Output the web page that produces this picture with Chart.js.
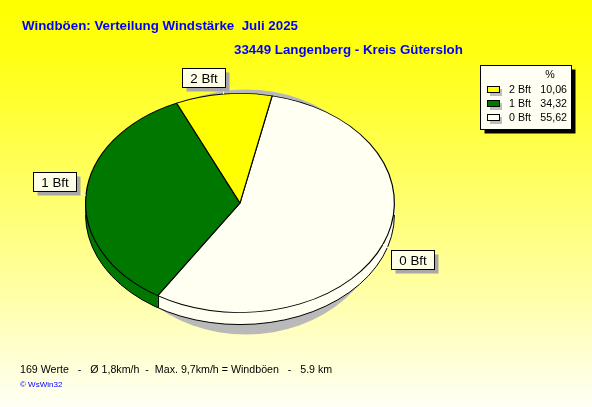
<!DOCTYPE html>
<html>
<head>
<meta charset="utf-8">
<script src="https://cdn.jsdelivr.net/npm/chart.js@4/dist/chart.umd.min.js"></script>
<style>
html, body { margin: 0; padding: 0; }
#wrap {
    position: relative; width: 592px; height: 407px; overflow: hidden;
    background: linear-gradient(to bottom, #ffff00 0%, #ffff10 12%, #ffff70 50%, #ffffac 74%, #fffff6 100%);
    font-family: "Liberation Sans", Arial, sans-serif;
}
#wrap canvas { position: absolute; left: 0; top: 0; }
.txt { position: absolute; white-space: pre; line-height: 1; }
</style>
</head>
<body>
<div id="wrap">
    <canvas id="pie" width="592" height="407"></canvas>
    <div class="txt" style="left:22px;top:19px;font-size:13.33px;font-weight:bold;color:#0000ff">Windböen: Verteilung Windstärke  Juli 2025</div>
    <div class="txt" style="left:234px;top:43px;font-size:13.33px;font-weight:bold;color:#0000ff">33449 Langenberg - Kreis Gütersloh</div>
    <div class="txt" style="left:20px;top:364px;font-size:10.67px;color:#000">169 Werte   -   Ø 1,8km/h  -  Max. 9,7km/h = Windböen   -   5.9 km</div>
    <div class="txt" style="left:20px;top:381px;font-size:8px;color:#0000ff">© WsWin32</div>
</div>
<script>
// data
const categories = ['0 Bft', '1 Bft', '2 Bft'];
const percents = [55.62, 34.32, 10.06];
const sliceColors = ['#fffff2', '#007800', '#ffff00'];
const legendOrder = [2, 1, 0];

// label boxes: offset of box top-left from the slice anchor on the rim
const labelOffsets = [[8, 6], [-53, -23], [-42, -26]];

const squash = 110 / 155;   // ellipse ry / rx
const depth = 12;           // thickness of the pie

function squashAt(ctx, cx, cy) {
    ctx.translate(cx, cy);
    ctx.scale(1, squash);
    ctx.translate(-cx, -cy);
}

function drawArcCopy(ctx, arc, opts) {
    const c = Object.create(arc);
    c.options = Object.assign({}, arc.options, opts);
    c.draw(ctx);
}

const pie3d = {
    id: 'pie3d',
    beforeDatasetsDraw(chart) {
        const ctx = chart.ctx;
        const arcs = chart.getDatasetMeta(0).data;
        const cx = arcs[0].x, cy = arcs[0].y, r = arcs[0].outerRadius;
        const ry = r * squash;
        // shadow
        ctx.save();
        ctx.fillStyle = '#b9b9b9';
        ctx.beginPath();
        ctx.ellipse(cx + 6, cy + 9, r - 14, ry + 13, 0, 0, Math.PI * 2);
        ctx.fill();
        ctx.restore();
        // side wall
        for (let d = depth; d > 0; d--) {
            ctx.save();
            ctx.translate(0, d);
            squashAt(ctx, cx, cy);
            arcs.forEach(a => drawArcCopy(ctx, a, {borderWidth: 0}));
            ctx.restore();
        }
        // bottom rim and vertical edges of the wall
        ctx.save();
        ctx.strokeStyle = '#000';
        ctx.lineWidth = 1;
        ctx.beginPath();
        ctx.ellipse(cx, cy + depth, r, ry, 0, 0, Math.PI);
        ctx.stroke();
        arcs.forEach(a => {
            const s = Math.sin(a.startAngle);
            if (s > 0) {
                const x = Math.round(cx + r * Math.cos(a.startAngle)) + 0.5;
                const y = cy + ry * s;
                ctx.beginPath();
                ctx.moveTo(x, y);
                ctx.lineTo(x, y + depth);
                ctx.stroke();
            }
        });
        ctx.restore();
        // top face
        ctx.save();
        squashAt(ctx, cx, cy);
    },
    afterDatasetsDraw(chart) {
        chart.ctx.restore();
    },
    afterDraw(chart) {
        const ctx = chart.ctx;
        const arcs = chart.getDatasetMeta(0).data;
        ctx.save();
        ctx.font = '13.33px "Liberation Sans", Arial, sans-serif';
        ctx.textAlign = 'center';
        ctx.textBaseline = 'middle';
        arcs.forEach((a, i) => {
            const mid = (a.startAngle + a.endAngle) / 2;
            const ax = a.x + a.outerRadius * Math.cos(mid);
            const ay = a.y + a.outerRadius * squash * Math.sin(mid);
            const bx = Math.round(ax + labelOffsets[i][0]) + 0.5;
            const by = Math.round(ay + labelOffsets[i][1]) + 0.5;
            const bw = 43, bh = 19;
            // leader
            const lx = Math.min(Math.max(ax, bx), bx + bw);
            const ly = Math.min(Math.max(ay, by), by + bh);
            ctx.strokeStyle = '#ffffff';
            ctx.lineWidth = 1;
            ctx.beginPath();
            ctx.moveTo(ax, ay);
            ctx.lineTo(lx, ly);
            ctx.stroke();
            ctx.fillStyle = '#a8a8a8';
            ctx.fillRect(bx + 4, by + 4, bw, bh);
            ctx.fillStyle = '#ffffe8';
            ctx.fillRect(bx, by, bw, bh);
            ctx.strokeStyle = '#000';
            ctx.strokeRect(bx, by, bw, bh);
            ctx.fillStyle = '#000';
            ctx.fillText(categories[i], bx + bw / 2, by + bh / 2 + 1);
        });

        // legend
        const lx = 480.5, ly = 65.5, lw = 91, lh = 64;
        ctx.fillStyle = '#000';
        ctx.fillRect(lx + 4, ly + 4, lw, lh);
        ctx.fillStyle = '#fffff4';
        ctx.fillRect(lx, ly, lw, lh);
        ctx.strokeStyle = '#000';
        ctx.strokeRect(lx, ly, lw, lh);
        ctx.font = '10.67px "Liberation Sans", Arial, sans-serif';
        ctx.textAlign = 'center';
        ctx.fillStyle = '#000';
        ctx.fillText('%', 550, 75);
        legendOrder.forEach((k, row) => {
            const y = 90 + row * 14;
            ctx.fillStyle = '#bdbdbd';
            ctx.fillRect(490, y - 1, 12, 7);
            ctx.fillStyle = sliceColors[k];
            ctx.fillRect(487.5, y - 3.5, 12, 6);
            ctx.strokeStyle = '#000';
            ctx.strokeRect(487.5, y - 3.5, 12, 6);
            ctx.fillStyle = '#000';
            ctx.textAlign = 'left';
            ctx.fillText(categories[k], 509, y);
            ctx.textAlign = 'right';
            ctx.fillText(percents[k].toFixed(2).replace('.', ','), 567, y);
        });
        ctx.restore();
    }
};

new Chart(document.getElementById('pie'), {
    type: 'pie',
    data: {
        labels: categories,
        datasets: [{
            data: percents,
            backgroundColor: sliceColors,
            borderColor: '#000',
            borderWidth: 1.2
        }]
    },
    options: {
        responsive: false,
        animation: false,
        events: [],
        rotation: 12,
        layout: { padding: { left: 85, right: 197, top: 48, bottom: 49 } },
        plugins: { legend: { display: false }, tooltip: { enabled: false } }
    },
    plugins: [pie3d]
});
</script>
</body>
</html>
